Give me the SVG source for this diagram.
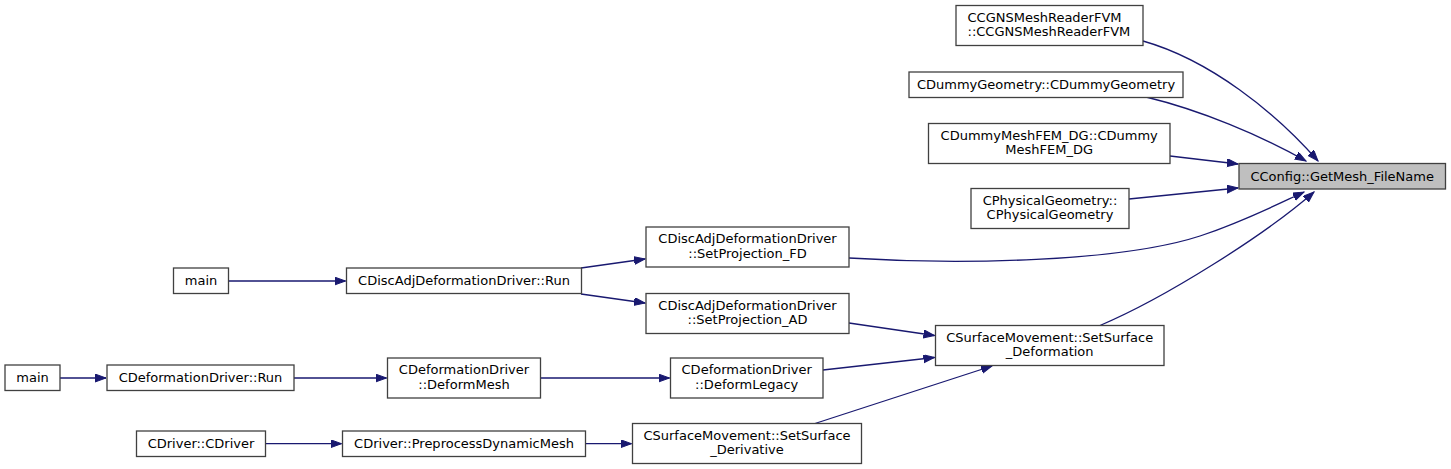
<svg xmlns="http://www.w3.org/2000/svg" width="1451" height="469" viewBox="0 0 1451 469">
<style>
.n rect{fill:#ffffff;stroke:#404040;stroke-width:1.3}
.n.hl rect{fill:#bfbfbf}
.n text{font-family:"DejaVu Sans","Liberation Sans",sans-serif;font-size:13px;fill:#000000;text-anchor:middle}
.n text.l{text-anchor:start}
.e path{fill:none;stroke:#191970;stroke-width:1.3;marker-end:url(#ah)}
</style>
<defs>
<marker id="ah" markerUnits="userSpaceOnUse" markerWidth="12" markerHeight="10" refX="11" refY="4" orient="auto">
<path d="M0,0 L11,4 L0,8 z" fill="#191970" stroke="#191970" stroke-width="1"/>
</marker>
</defs>
<rect width="1451" height="469" fill="#ffffff"/>
<g id="connectors" class="e">
<path d="M1143,41 C1210,60 1275,112 1318,161"/>
<path d="M1146,97 C1200,110 1260,135 1306,161"/>
<path d="M1170,156 L1238,164"/>
<path d="M1129,199 L1238,188"/>
<path d="M849,258 C960,265 1120,262 1200,236 C1245,221 1280,203 1304,192"/>
<path d="M1100,325.5 C1165,298 1265,235 1314,192"/>
<path d="M229,281 L345.5,281"/>
<path d="M581,268 L645,259"/>
<path d="M581,294 L645,303"/>
<path d="M849,323 L934.5,335.5"/>
<path d="M823,370 L934.5,357.5"/>
<path d="M815,423.5 L992,366"/>
<path d="M60,378 L106,378"/>
<path d="M294,378 L386.5,378"/>
<path d="M541,378 L669.5,378"/>
<path d="M265.5,443.7 L341.5,443.7"/>
<path d="M585.5,443.7 L631.5,443.7"/>
</g>
<g id="n_config" class="n hl"><rect x="1239" y="163.5" width="206.5" height="25.5"/><text x="1342.2" y="180.5">CConfig::GetMesh_FileName</text></g>
<g id="n_cgns" class="n"><rect x="956" y="5.5" width="187" height="40"/><text class="l" x="967.5" y="21.5">CCGNSMeshReaderFVM</text><text class="l" x="967.5" y="36">::CCGNSMeshReaderFVM</text></g>
<g id="n_dummygeo" class="n"><rect x="909" y="72" width="274" height="25.5"/><text x="1046" y="89">CDummyGeometry::CDummyGeometry</text></g>
<g id="n_dummymesh" class="n"><rect x="928.5" y="123.5" width="241.5" height="40"/><text x="1049.2" y="139.5">CDummyMeshFEM_DG::CDummy</text><text x="1049.2" y="154">MeshFEM_DG</text></g>
<g id="n_physgeo" class="n"><rect x="971" y="188.5" width="158" height="40"/><text x="1050" y="204.5">CPhysicalGeometry::</text><text x="1050" y="219">CPhysicalGeometry</text></g>
<g id="n_fd" class="n"><rect x="646" y="227" width="203" height="40"/><text x="747.5" y="243">CDiscAdjDeformationDriver</text><text x="747.5" y="257.5">::SetProjection_FD</text></g>
<g id="n_main1" class="n"><rect x="173.5" y="268" width="55" height="25.5"/><text x="201" y="285">main</text></g>
<g id="n_discrun" class="n"><rect x="346.5" y="268" width="235" height="25.5"/><text x="464" y="285">CDiscAdjDeformationDriver::Run</text></g>
<g id="n_ad" class="n"><rect x="646" y="293.5" width="203" height="40"/><text x="747.5" y="309.5">CDiscAdjDeformationDriver</text><text x="747.5" y="324">::SetProjection_AD</text></g>
<g id="n_surfdef" class="n"><rect x="935.5" y="325.5" width="228.5" height="40"/><text x="1049.7" y="341.5">CSurfaceMovement::SetSurface</text><text x="1049.7" y="356">_Deformation</text></g>
<g id="n_main2" class="n"><rect x="5" y="365" width="55" height="25.5"/><text x="32.5" y="382">main</text></g>
<g id="n_defrun" class="n"><rect x="107" y="365" width="187" height="25.5"/><text x="200.5" y="382">CDeformationDriver::Run</text></g>
<g id="n_deformmesh" class="n"><rect x="387.5" y="358" width="153" height="40"/><text x="464" y="374">CDeformationDriver</text><text x="464" y="388.5">::DeformMesh</text></g>
<g id="n_deformlegacy" class="n"><rect x="670.5" y="358" width="152.5" height="40"/><text x="746.7" y="374">CDeformationDriver</text><text x="746.7" y="388.5">::DeformLegacy</text></g>
<g id="n_cdriver" class="n"><rect x="136.5" y="431" width="129" height="25.5"/><text x="201" y="448">CDriver::CDriver</text></g>
<g id="n_preprocess" class="n"><rect x="342.5" y="431" width="243" height="25.5"/><text x="464" y="448">CDriver::PreprocessDynamicMesh</text></g>
<g id="n_surfderiv" class="n"><rect x="632.5" y="423.5" width="229" height="40"/><text x="747" y="439.5">CSurfaceMovement::SetSurface</text><text x="747" y="454">_Derivative</text></g>
</svg>
